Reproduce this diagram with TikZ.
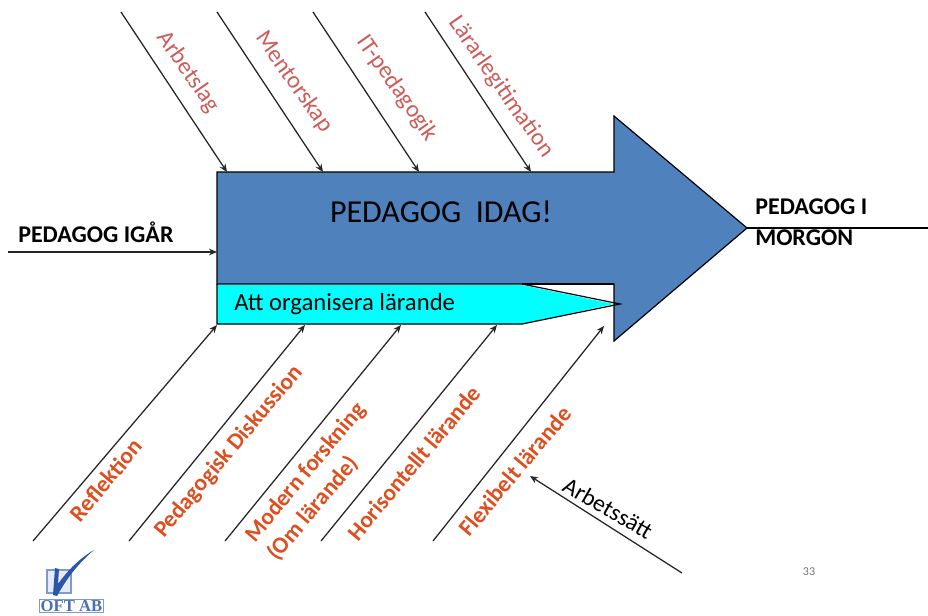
\documentclass[tikz,border=0pt]{standalone}
\usepackage{fontspec}
\setmainfont{Carlito}
\newfontfamily\logofont{Liberation Serif}
\usetikzlibrary{arrows.meta}
\definecolor{arrowblue}{HTML}{4F81BD}
\definecolor{boxcyan}{HTML}{00FFFF}
\definecolor{toplabel}{HTML}{CC5C58}
\definecolor{botlabel}{HTML}{DE4F20}
\definecolor{logoblue}{HTML}{2A56A8}
\tikzset{
  x=0.75pt,y=-0.75pt,
  conn/.style={draw=black!85,line width=0.95pt,-{Stealth[length=6pt,width=5pt]}},
  toptext/.style={text=toplabel,font=\fontsize{18}{20}\selectfont,rotate=-55,inner sep=0pt},
  bottext/.style={text=botlabel,font=\fontsize{17.5}{22}\selectfont\bfseries,rotate=50,inner sep=0pt,align=left},
  sidetext/.style={text=black,font=\fontsize{18}{23}\selectfont\bfseries,inner sep=0pt,align=left},
}
\begin{document}
\begin{tikzpicture}
\useasboundingbox (0,0) rectangle (928,615);
% main arrow
\draw[fill=arrowblue,draw=black,line width=0.9pt]
  (217,172) -- (614,172) -- (614,116) -- (747,228) -- (614,341) -- (614,284) -- (217,284) -- cycle;
% cyan box
\fill[boxcyan] (217,285) -- (522,285) -- (614,304) -- (522,324) -- (217,324) -- cycle;
\draw[black,line width=0.9pt] (614,284) -- (522,284);
\draw[black,line width=0.9pt] (217,284) -- (217,324) -- (522,324) -- (620,304) -- (522,284);
% text
\node[font=\fontsize{24}{28}\selectfont,inner sep=0pt] (idag) at (441,212) {PEDAGOG\ \ IDAG!};
\node[font=\fontsize{18.5}{22}\selectfont,anchor=west,inner sep=0pt] (org) at (234,304) {Att organisera lärande};
\node[sidetext,anchor=west] (igar) at (18,232) {PEDAGOG IGÅR};
\node[sidetext,anchor=west] (morgon) at (755,222) {PEDAGOG I\\MORGON};
% free ends
\coordinate (igarS) at (8,252);
\coordinate (igarE) at (217,252);
\coordinate (morgonS) at (747,228);
\coordinate (morgonE) at (928,228);
\coordinate (t1s) at (121,12);  \coordinate (t1e) at (227,172);
\coordinate (t2s) at (217,12);  \coordinate (t2e) at (323,172);
\coordinate (t3s) at (313,12);  \coordinate (t3e) at (419,172);
\coordinate (t4s) at (425,12);  \coordinate (t4e) at (531,172);
\coordinate (b1s) at (33,541);  \coordinate (b1e) at (217,325);
\coordinate (b2s) at (129,541); \coordinate (b2e) at (305,325);
\coordinate (b3s) at (225,541); \coordinate (b3e) at (401,325);
\coordinate (b4s) at (321,541); \coordinate (b4e) at (497,325);
\coordinate (b5s) at (433,541); \coordinate (b5e) at (604,326);
\coordinate (ass) at (682,573); \coordinate (ase) at (530,476);
% connectors
\draw[conn] (igarS) -- (igarE);
\draw[draw=black,line width=1.1pt] (morgonS) -- (morgonE);
\foreach \n in {t1,t2,t3,t4,b1,b2,b3,b4,b5,as}{\draw[conn] (\n s) -- (\n e);}
% top labels
\node[toptext] (arb) at (188,72) {Arbetslag};
\node[toptext] (men) at (294,82) {Mentorskap};
\node[toptext] (itp) at (397,88) {IT-pedagogik};
\node[toptext] (lar) at (501,87) {Lärarlegitimation};
% bottom labels
\node[bottext] (ref) at (106,480) {Reflektion};
\node[bottext] (dis) at (229,452) {Pedagogisk Diskussion};
\node[bottext] (mod) at (317,482) {Modern forskning\\(Om lärande)};
\node[bottext] (hor) at (414,463) {Horisontellt lärande};
\node[bottext] (fle) at (515,471) {Flexibelt lärande};
\node[rotate=-30,font=\fontsize{17.8}{20}\selectfont,inner sep=0pt] (ass2) at (608,508) {Arbetssätt};
\node[text=black!55,font=\fontsize{9}{11}\selectfont,inner sep=0pt] (pg) at (809,572) {33};
% tiny mark
\node[text=black!60,font=\fontsize{6}{7}\selectfont,inner sep=0pt] (dot) at (440,243) {-};
% logo
\draw[draw=logoblue!60,line width=0.8pt,fill=logoblue!12] (47,570) rectangle (71,593);
\fill[logoblue] (53,595) -- (55,568) -- (59,569) -- (58,584) .. controls (68,570) and (80,558) .. (94,550) .. controls (80,562) and (68,576) .. (57,596) -- cycle;
\node[draw=logoblue!60,line width=0.7pt,text=logoblue!85,font=\logofont\bfseries\fontsize{12.5}{13}\selectfont,inner xsep=1pt,inner ysep=0.5pt] (oft) at (71.5,606) {OFT AB};
\end{tikzpicture}
\end{document}
